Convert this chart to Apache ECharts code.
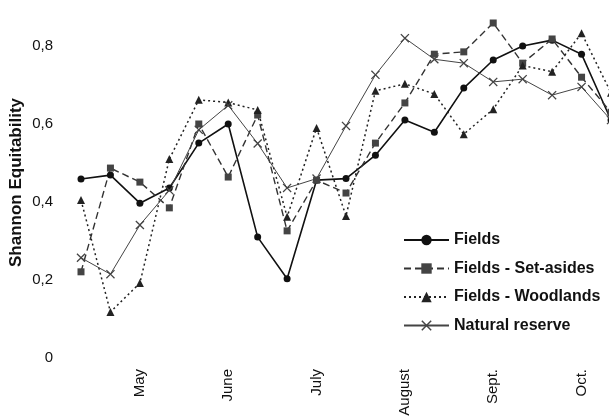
<!DOCTYPE html>
<html>
<head>
<meta charset="utf-8">
<script src="https://cdn.jsdelivr.net/npm/echarts@6/dist/echarts.min.js"></script>
<style>
html,body{margin:0;padding:0;background:#fff;}
#chart{width:609px;height:417px;}
</style>
</head>
<body>
<div id="chart"></div>
<script>
const tickLabels = ['', '', 'May', '', '', 'June', '', '', 'July', '', '', 'August', '', '', 'Sept.', '', '', 'Oct.', ''];
const seriesNames = ['Fields', 'Fields - Set-asides', 'Fields - Woodlands', 'Natural reserve'];
const fields     = [0.459, 0.469, 0.397, 0.436, 0.551, 0.600, 0.310, 0.203, 0.456, 0.460, 0.520, 0.610, 0.579, 0.692, 0.764, 0.800, 0.815, 0.779, 0.610];
const setAsides  = [0.221, 0.487, 0.451, 0.385, 0.600, 0.464, 0.623, 0.326, 0.456, 0.423, 0.551, 0.654, 0.779, 0.785, 0.859, 0.756, 0.818, 0.720, 0.630];
const woodlands  = [0.405, 0.118, 0.192, 0.510, 0.662, 0.655, 0.636, 0.362, 0.590, 0.364, 0.685, 0.703, 0.677, 0.574, 0.638, 0.750, 0.734, 0.833, 0.680];
const natural    = [0.257, 0.215, 0.341, 0.430, 0.585, 0.648, 0.550, 0.436, 0.460, 0.595, 0.726, 0.820, 0.766, 0.756, 0.708, 0.715, 0.674, 0.695, 0.610];

const crossPath = 'path://M0,1 L1,0 L5,4 L9,0 L10,1 L6,5 L10,9 L9,10 L5,6 L1,10 L0,9 L4,5 Z';
const FONT = 'Liberation Sans, Arial, sans-serif';

const chart = echarts.init(document.getElementById('chart'));
chart.setOption({
  animation: false,
  backgroundColor: '#fff',
  grid: { left: 81, top: 7, width: 530, height: 351, containLabel: false, outerBoundsMode: 'none' },
  legend: {
    orient: 'vertical', left: 398, top: 227,
    itemWidth: 45, itemHeight: 13, itemGap: 12.5,
    textStyle: { fontFamily: FONT, fontSize: 16, fontWeight: 'bold', color: '#111' },
    data: seriesNames
  },
  xAxis: {
    type: 'category', data: tickLabels, boundaryGap: false,
    axisLine: { show: false }, axisTick: { show: false }, splitLine: { show: false },
    axisLabel: { interval: 0, rotate: 90, margin: 11, fontFamily: FONT, fontSize: 15, color: '#111' }
  },
  yAxis: {
    type: 'value', min: 0, max: 0.9, interval: 0.2,
    name: 'Shannon Equitability', nameLocation: 'middle', nameGap: 56, nameRotate: 90,
    nameMoveOverlap: false,
    nameTextStyle: { fontFamily: FONT, fontSize: 17, fontWeight: 'bold', color: '#111' },
    axisLine: { show: false }, axisTick: { show: false }, splitLine: { show: false },
    axisLabel: {
      margin: 28, fontFamily: FONT, fontSize: 15, color: '#111',
      formatter: v => v > 0.85 ? '' : (v === 0 ? '0' : v.toFixed(1).replace('.', ','))
    }
  },
  series: [
    { name: seriesNames[0], type: 'line', data: fields, symbol: 'circle', symbolSize: 7,
      itemStyle: { color: '#111' }, lineStyle: { color: '#111', width: 1.6, type: 'solid' } },
    { name: seriesNames[1], type: 'line', data: setAsides, symbol: 'rect', symbolSize: 7,
      itemStyle: { color: '#444' }, lineStyle: { color: '#333', width: 1.4, type: [7, 4] } },
    { name: seriesNames[2], type: 'line', data: woodlands, symbol: 'triangle', symbolSize: 8,
      itemStyle: { color: '#222' }, lineStyle: { color: '#222', width: 1.5, type: [2, 3] } },
    { name: seriesNames[3], type: 'line', data: natural, symbol: crossPath, symbolSize: 9,
      itemStyle: { color: '#444' }, lineStyle: { color: '#444', width: 1, type: 'solid' } }
  ]
});
</script>
</body>
</html>
